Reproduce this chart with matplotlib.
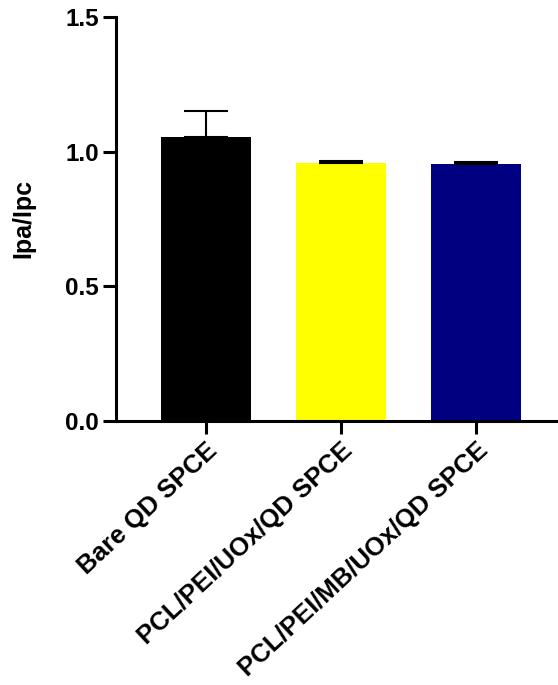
import matplotlib
matplotlib.use("Agg")
import matplotlib.pyplot as plt

# electrode types and their anodic/cathodic peak current ratios
electrodes = ["Bare QD SPCE", "PCL/PEI/UOx/QD SPCE", "PCL/PEI/MB/UOx/QD SPCE"]
ratio_mean = [1.056, 0.959, 0.955]
ratio_sd = [0.096, 0.008, 0.008]
bar_colors = ["#000000", "#FFFF00", "#000080"]
y_ticks = [0.0, 0.5, 1.0, 1.5]

plt.rcParams["font.family"] = ["Liberation Sans", "DejaVu Sans"]
plt.rcParams["font.weight"] = "bold"

fig = plt.figure(figsize=(5.58, 6.85), dpi=100)
ax = fig.add_axes([0.2079, 0.3854, 0.7921, 0.5898])

x = list(range(len(electrodes)))
ax.bar(x, ratio_mean, width=0.667, color=bar_colors, zorder=2)
# only the upper half of the error bar is drawn
ax.errorbar(x, ratio_mean, yerr=[[0] * len(x), ratio_sd], fmt="none",
            ecolor="black", elinewidth=1.5, capsize=15.8, capthick=1.5, zorder=3)

ax.set_xlim(-0.667, 2.607)
ax.set_ylim(0, 1.5)
ax.set_yticks(y_ticks)
ax.set_yticklabels([f"{v:.1f}" for v in y_ticks], fontsize=17.5, fontweight="bold")
ax.set_xticks(x)
ax.set_xticklabels(electrodes, fontsize=18.5, fontweight="bold",
                   rotation=43, ha="right", va="top", rotation_mode="anchor")

for side in ["top", "right"]:
    ax.spines[side].set_visible(False)
for side in ["left", "bottom"]:
    ax.spines[side].set_linewidth(2.2)
ax.tick_params(axis="both", length=9.5, width=2.2, pad=3)
ax.tick_params(axis="x", pad=3)

ax.set_ylabel("Ipa/Ipc", fontsize=18, fontweight="bold")
ax.yaxis.set_label_coords(-0.183, 0.5)

fig.savefig("out.png", dpi=100)
